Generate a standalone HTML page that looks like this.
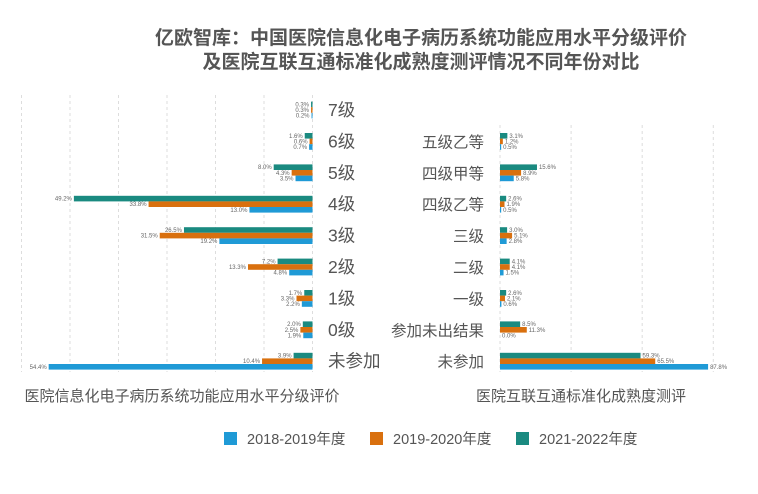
<!DOCTYPE html>
<html><head><meta charset="utf-8"><style>
html,body{margin:0;padding:0;background:#fff;}
svg{display:block;font-family:"Liberation Sans","Noto Sans CJK SC",sans-serif;}
</style></head><body>
<svg id="c" width="758" height="494" viewBox="0 0 758 494">
<text x="421" y="44" text-anchor="middle" font-size="19" font-weight="bold" fill="#555">亿欧智库：中国医院信息化电子病历系统功能应用水平分级评价</text>
<text x="421" y="68" text-anchor="middle" font-size="19" font-weight="bold" fill="#555">及医院互联互通标准化成熟度测评情况不同年份对比</text>
<text x="182" y="401" text-anchor="middle" font-size="15" fill="#555">医院信息化电子病历系统功能应用水平分级评价</text>
<text x="581" y="401" text-anchor="middle" font-size="15" fill="#555">医院互联互通标准化成熟度测评</text>
<g id="legend"></g>
<g id="grid"></g><g id="bars"></g>
</svg>
<script>
const seriesNames=["2018-2019年度","2019-2020年度","2021-2022年度"];
const colors=["#1f9ad6","#d9700e","#1a8a80"];
const leftCats=["7级","6级","5级","4级","3级","2级","1级","0级","未参加"];
const left1819=[0.2,0.7,3.5,13.0,19.2,4.8,2.2,1.9,54.4];
const left1920=[0.3,0.6,4.3,33.8,31.5,13.3,3.3,2.5,10.4];
const left2122=[0.3,1.6,8.0,49.2,26.5,7.2,1.7,2.0,3.9];
const rightCats=["五级乙等","四级甲等","四级乙等","三级","二级","一级","参加未出结果","未参加"];
const right1819=[0.5,5.8,0.5,2.8,1.5,0.6,0.0,87.8];
const right1920=[1.2,8.9,1.9,5.1,4.1,2.1,11.3,65.5];
const right2122=[3.1,15.6,2.6,3.0,4.1,2.6,8.5,59.3];

const NS="http://www.w3.org/2000/svg";
function mk(tag,attrs,parent,txt){const e=document.createElementNS(NS,tag);for(const k in attrs)e.setAttribute(k,attrs[k]);if(txt!==undefined)e.textContent=txt;parent.appendChild(e);return e;}
const grid=document.getElementById('grid'),bars=document.getElementById('bars'),leg=document.getElementById('legend');
const L0=312.5,LK=4.85,R0=500,RK=2.37;
const rowY=i=>110+i*31.4;
const lx=v=>L0-v*LK, rx=v=>R0+v*RK;
for(let g=0;g<=60;g+=10){const x=lx(g);const l=mk('line',{x1:x,x2:x,y1:95,y2:372,stroke:'#ddd','stroke-dasharray':'3,3'},grid);

}
for(let g=0;g<=90;g+=30){const x=rx(g);const l=mk('line',{x1:x,x2:x,y1:125,y2:372,stroke:'#ddd','stroke-dasharray':'3,3'},grid);

}
const lSeries=[left2122,left1920,left1819],rSeries=[right2122,right1920,right1819],cIdx=[2,1,0];
const bh=5.6;
leftCats.forEach((c,i)=>{
  const cy=rowY(i);
  const t=mk('text',{x:328,y:cy+6,'font-size':17.5,fill:'#555'},bars,c);
  
  
  lSeries.forEach((s,k)=>{
    const y=cy-8.4+k*bh;const x=lx(s[i]);
    const r=mk('rect',{x:x,y:y,width:L0-x,height:bh,fill:colors[cIdx[k]]},bars);
    
    
    const tl=mk('text',{x:x-2,y:y+4.8,'font-size':6,fill:'#666','text-anchor':'end'},bars,s[i].toFixed(1)+'%');
    
    
  });
});
rightCats.forEach((c,i)=>{
  const cy=rowY(i+1);
  const t=mk('text',{x:484,y:cy+6,'font-size':15.5,fill:'#555','text-anchor':'end'},bars,c);
  
  
  rSeries.forEach((s,k)=>{
    const y=cy-8.4+k*bh;const x=rx(s[i]);
    const r=mk('rect',{x:R0,y:y,width:x-R0,height:bh,fill:colors[cIdx[k]]},bars);
    
    
    const tl=mk('text',{x:x+2,y:y+4.8,'font-size':6,fill:'#666'},bars,s[i].toFixed(1)+'%');
    
    
  });
});
const legX=[224,370,516];
seriesNames.forEach((n,k)=>{
  const r=mk('rect',{x:legX[k],y:432,width:13,height:13,fill:colors[k]},leg);
  
  
  const t=mk('text',{x:legX[k]+23,y:444,'font-size':14.5,fill:'#555'},leg,n);
  
  
});
</script>
</body></html>
